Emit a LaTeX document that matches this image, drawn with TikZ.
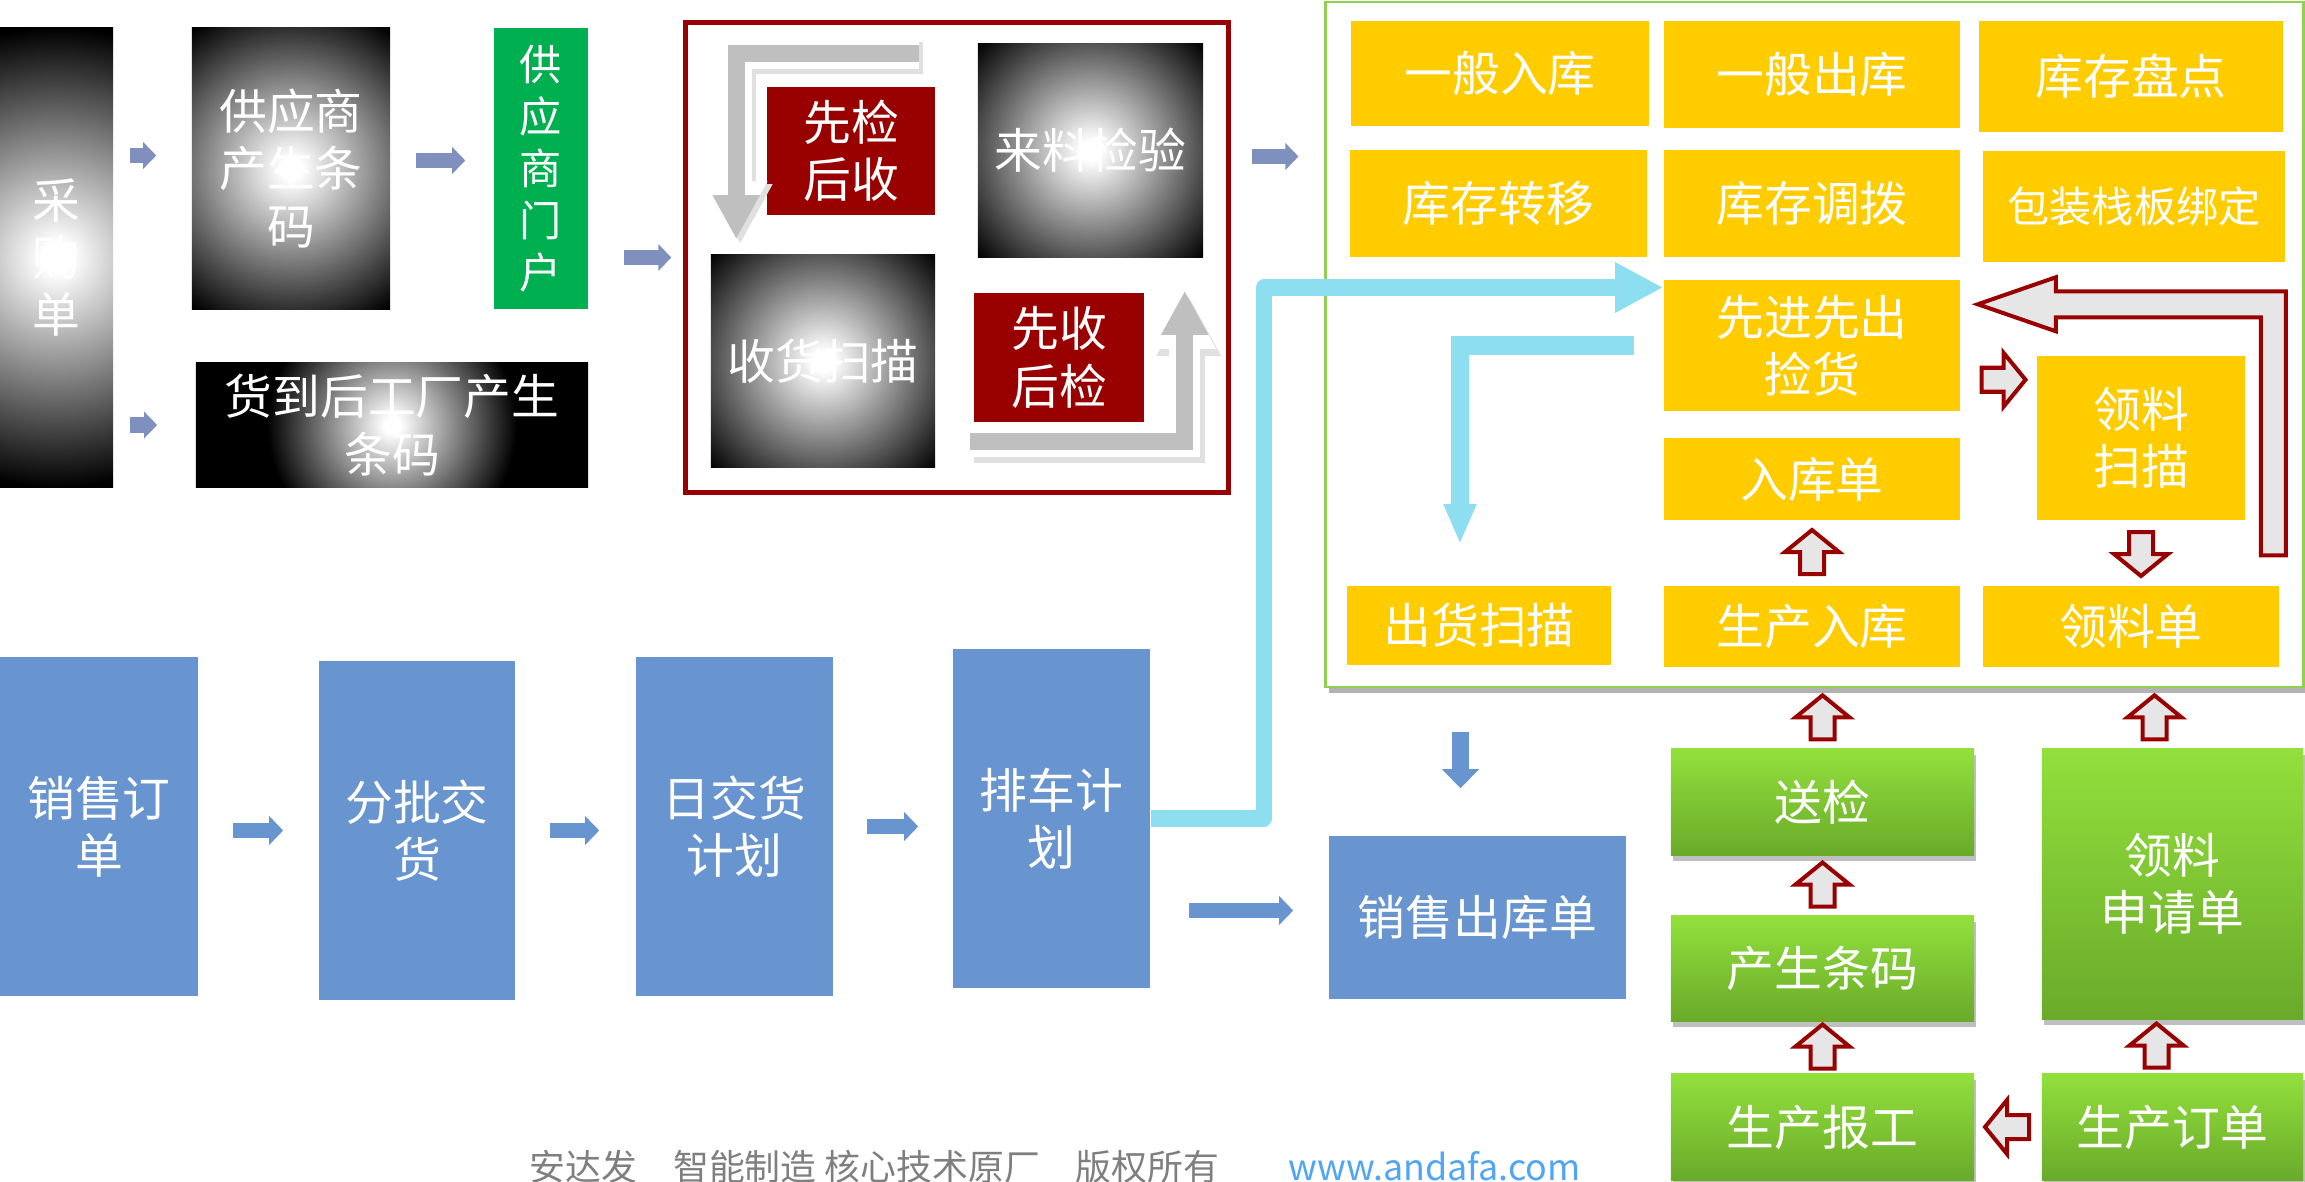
\documentclass[tikz,border=0pt]{standalone}
\usepackage{fontspec}
\setmainfont{Noto Sans CJK SC}
\usetikzlibrary{arrows.meta,calc,shadows}

\definecolor{darkred}{RGB}{153,0,0}
\definecolor{portalgreen}{RGB}{0,176,80}
\definecolor{boxyellow}{RGB}{255,204,0}
\definecolor{boxblue}{RGB}{104,149,207}
\definecolor{steelarrow}{RGB}{127,143,190}
\definecolor{flowcyan}{RGB}{140,222,240}
\definecolor{framegreen}{RGB}{146,208,80}
\definecolor{lightgreen}{RGB}{146,224,60}
\definecolor{deepgreen}{RGB}{106,170,42}
\definecolor{flowgray}{RGB}{191,191,191}
\definecolor{paleblock}{RGB}{230,230,230}
\definecolor{footgray}{RGB}{127,127,127}
\definecolor{footblue}{RGB}{80,165,245}

\pgfdeclareradialshading{glowshade}{\pgfpoint{0bp}{0bp}}{color(0bp)=(white); color(0.8bp)=(white); color(12.5bp)=(black); color(50bp)=(black)}

\tikzset{
  base/.style={inner sep=0pt, text=white, align=center, font=\fontsize{13.6pt}{16.3pt}\selectfont},
  sz/.style 2 args={minimum width=#1cm, minimum height=#2cm},
  glow/.style={base, fill=black, path picture={\shade[shading=glowshade]
      ([shift={(-#1,-#1)}]path picture bounding box.center) rectangle
      ([shift={(#1,#1)}]path picture bounding box.center);}},
  ybox/.style={base, fill=boxyellow},
  bbox/.style={base, fill=boxblue},
  rbox/.style={base, fill=darkred},
  gbox/.style={base, top color=lightgreen, bottom color=deepgreen,
      drop shadow={shadow xshift=0.02cm, shadow yshift=-0.06cm, opacity=0.25, fill=black}},
  ckframe/.style={inner sep=0pt, draw=framegreen, line width=0.025cm, fill=white,
      drop shadow={shadow xshift=0.03cm, shadow yshift=-0.06cm, opacity=0.3, fill=black}},
  jyframe/.style={inner sep=0pt, draw=darkred, line width=0.05cm, fill=white,
      drop shadow={shadow xshift=0.02cm, shadow yshift=-0.03cm, opacity=0.2, fill=black}},
  sarrow/.style={draw=steelarrow, line width=0.15cm, -{Triangle[length=0.13cm, width=0.26cm]}},
  barrow/.style={draw=boxblue, line width=0.15cm, -{Triangle[length=0.14cm, width=0.28cm]}},
  cyanflow/.style={draw=flowcyan, line width=0.16cm},
  grayflow/.style={draw=flowgray, line width=0.17cm, -{Triangle[length=0.44cm, width=0.44cm]},
      preaction={draw=black!12, line width=0.32cm, -{Triangle[length=0.60cm, width=0.60cm]},
        transform canvas={shift={(0.04cm,-0.05cm)}}},
      preaction={draw=white, line width=0.31cm, -{Triangle[length=0.58cm, width=0.58cm]}}},
  redblk/.style={draw=darkred, fill=paleblock, line width=0.04cm, line join=miter},
  pics/blk/.style={code={\draw[redblk] (-21,-12) -- (1,-12) -- (1,-27) -- (23,0)
      -- (1,27) -- (1,12) -- (-21,12) -- cycle;}}
}

\begin{document}
\begin{tikzpicture}[x=0.01cm, y=-0.01cm]
  \useasboundingbox (0,0) rectangle (2305,1182);

  % frames
  \node[ckframe, sz={9.77}{6.85}] (ck) at (1814.5,344.5) {};
  \node[jyframe, sz={5.42}{4.69}] (jyk) at (957,257.5) {};

  % purchasing
  \node[glow=4.6cm, sz={1.13}{4.59}] (cgd) at (56.5,257.5) {采\\购\\单};
  \node[glow=3.4cm, sz={1.98}{2.81}] (gys) at (291,168.5) {供应商\\产生条\\码};
  \node[base, fill=portalgreen, sz={0.94}{2.81}, font=\fontsize{12pt}{14.8pt}\selectfont]
    (gysmh) at (541,168.5) {供\\应\\商\\门\\户};
  \node[glow=2.5cm, sz={3.92}{1.24}] (hdgc) at (392,425) {货到后工厂产生\\条码};

  % receiving
  \node[rbox, sz={1.68}{1.28}] (xjhs) at (851,151) {先检\\后收};
  \node[glow=3.1cm, sz={2.25}{2.13}] (lljy) at (1090.5,150.5) {来料检验};
  \node[glow=3.1cm, sz={2.24}{2.12}] (shsm) at (823,361) {收货扫描};
  \node[rbox, sz={1.70}{1.29}] (xshj) at (1059,357.5) {先收\\后检};

  % warehouse
  \node[ybox, sz={2.98}{1.05}] (ybrk) at (1500,73.5) {一般入库};
  \node[ybox, sz={2.96}{1.07}] (ybck) at (1812,74.5) {一般出库};
  \node[ybox, sz={3.04}{1.11}] (kcpd) at (2131,76.5) {库存盘点};
  \node[ybox, sz={2.97}{1.07}] (kczy) at (1498.5,203.5) {库存转移};
  \node[ybox, sz={2.96}{1.07}] (kcdb) at (1812,203.5) {库存调拨};
  \node[ybox, sz={3.02}{1.11}, font=\fontsize{12pt}{14.8pt}\selectfont] (bzzb) at (2134,206.5) {包装栈板绑定};
  \node[ybox, sz={2.96}{1.31}] (xjxc) at (1812,345.5) {先进先出\\捡货};
  \node[ybox, sz={2.08}{1.64}] (llsm) at (2141,438) {领料\\扫描};
  \node[ybox, sz={2.96}{0.82}] (rkd) at (1812,479) {入库单};
  \node[ybox, sz={2.64}{0.79}] (chsm) at (1479,625.5) {出货扫描};
  \node[ybox, sz={2.96}{0.81}] (scrk) at (1812,626.5) {生产入库};
  \node[ybox, sz={2.96}{0.81}] (lld) at (2131,626.5) {领料单};

  % production
  \node[gbox, sz={3.03}{1.06}] (sj) at (1822.5,802) {送检};
  \node[gbox, sz={3.03}{1.05}] (sctm) at (1822.5,968.5) {产生条码};
  \node[gbox, sz={3.03}{1.06}] (scbg) at (1822.5,1127) {生产报工};
  \node[gbox, sz={2.61}{2.70}] (llsq) at (2172.5,884) {领料\\申请单};
  \node[gbox, sz={2.61}{1.06}] (scdd) at (2172.5,1127) {生产订单};

  % sales
  \node[bbox, sz={1.98}{3.39}] (xsdd) at (99,826.5) {销售订\\单};
  \node[bbox, sz={1.96}{3.39}] (fpjh) at (417,830.5) {分批交\\货};
  \node[bbox, sz={1.97}{3.39}] (rjh) at (734.5,826.5) {日交货\\计划};
  \node[bbox, sz={1.97}{3.39}] (pcjh) at (1051.5,818.5) {排车计\\划};
  \node[bbox, sz={2.97}{1.63}] (xsck) at (1477.5,917.5) {销售出库单};

  % small arrows
  \draw[sarrow, shorten <=0.16cm, shorten >=0.35cm] ($(cgd.east |- gys.west)+(0,-13)$) -- ($(gys.west)+(0,-13)$);
  \draw[sarrow, shorten <=0.16cm, shorten >=0.38cm] (cgd.east |- hdgc.west) -- (hdgc.west);
  \draw[sarrow, shorten <=0.25cm, shorten >=0.28cm] ($(gys.east)+(0,-8)$) -- ($(gysmh.west)+(0,-8)$);
  \draw[sarrow, shorten <=0.35cm, shorten >=0.12cm] (gysmh.east |- jyk.west) -- (jyk.west);
  \draw[sarrow, shorten <=0.21cm, shorten >=0.26cm] ($(jyk.east |- lljy.east)+(0,6)$) -- ($(ck.west |- lljy.east)+(0,6)$);

  \draw[barrow, shorten <=0.34cm, shorten >=0.35cm] (xsdd.east |- fpjh.west) -- (fpjh.west);
  \draw[barrow, shorten <=0.34cm, shorten >=0.36cm] (fpjh.east) -- (fpjh.east -| rjh.west);
  \draw[barrow, shorten <=0.33cm, shorten >=0.34cm] (rjh.east) -- (rjh.east -| pcjh.west);
  \draw[barrow, shorten <=0.38cm, shorten >=0.35cm] ($(pcjh.east |- xsck.west)+(0,-7)$) -- ($(xsck.west)+(0,-7)$);
  \draw[barrow, line width=0.17cm, -{Triangle[length=0.19cm, width=0.36cm]}, shorten <=0.44cm, shorten >=0.47cm]
    ($(xsck.north |- ck.south)+(-17,0)$) -- ($(xsck.north)+(-17,0)$);

  % gray flows
  \draw[grayflow] ($(lljy.north west)+(-58,10)$) -| ($(shsm.north west)+(26,-15)$);
  \draw[grayflow] ($(shsm.south east)+(34,-26)$) -| ($(lljy.south east)+(-19,33)$);

  % cyan flows
  \draw[cyanflow, line join=round, -{Triangle[length=0.48cm, width=0.47cm]}]
    (pcjh.east) -- ++(113,0) |- ($(xjxc.west)+(0,-58)$);
  \draw[cyanflow, line width=0.18cm, shorten <=0.29cm, shorten >=0.41cm, -{Triangle[length=0.40cm, width=0.30cm]}]
    (xjxc.west) -| ($(chsm.north)+(-19,0)$);

  % red block arrows
  \draw[redblk] ($(lld.north east)+(-19,-30)$) -- ++(0,-238) -- ++(-205,0) -- ++(0,14)
    -- ++(-78,-27) -- ++(78,-27) -- ++(0,14) -- ++(230,0) -- ++(0,264) -- cycle;
  \pic[rotate=90] at ($(scrk.north)!0.5!(rkd.south)$) {blk};
  \pic at ($(xjxc.east)!0.5!(llsm.west)+(4,-12)$) {blk};
  \pic[rotate=-90] at ($(llsm.south)!0.5!(llsm.south |- lld.north)$) {blk};
  \pic[rotate=90] at ($(sj.north)!0.5!(sj.north |- ck.south)$) {blk};
  \pic[rotate=90] at ($(sctm.north)!0.5!(sj.south)$) {blk};
  \pic[rotate=90] at ($(scbg.north)!0.5!(sctm.south)$) {blk};
  \pic[rotate=90] at ($(llsq.north)!0.5!(llsq.north |- ck.south)+(-18,0)$) {blk};
  \pic[rotate=90] at ($(scdd.north)!0.5!(llsq.south)+(-16,0)$) {blk};
  \pic[rotate=180] at ($(scdd.west)!0.5!(scbg.east)$) {blk};

  % footer
  \node[font=\fontsize{10.2pt}{12pt}\selectfont, text=footgray, anchor=base west, inner sep=0pt]
    (ftr) at (529,1180) {安达发　智能制造 核心技术原厂　版权所有};
  \node[font=\fontsize{10.2pt}{12pt}\selectfont, text=footblue, anchor=base west, inner sep=0pt]
    (web) at (1288,1180) {www.andafa.com};
\end{tikzpicture}
\end{document}
